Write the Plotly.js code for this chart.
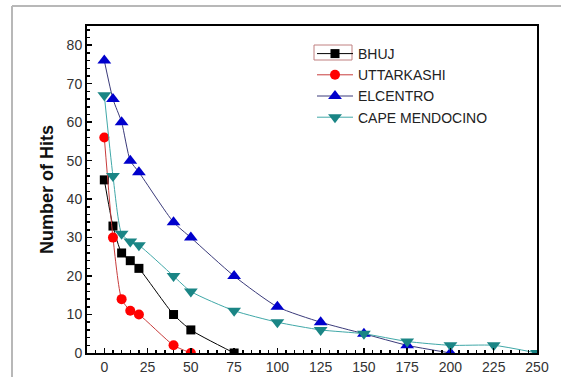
<!DOCTYPE html>
<html><head><meta charset="utf-8">
<script src="https://cdn.plot.ly/plotly-3.0.1.min.js"></script>
<style>html,body{margin:0;padding:0;background:#fff}#chart{width:561px;height:377px}</style>
</head><body><div id="chart"></div>
<script>
const bhujX = [0,5,10,15,20,40,50,75];
const bhujY = [45,33,26,24,22,10,6,0];
const uttX = [0,5,10,15,20,40,50];
const uttY = [56,30,14,11,10,2,0];
const elcX = [0,5,10,15,20,40,50,75,100,125,150,175,200];
const elcY = [76,66,60,50,47,34,30,20,12,8,5,2,0];
const capeX = [0,5,10,15,20,40,50,75,100,125,150,175,200,225,250];
const capeY = [67,46,31,29,28,20,16,11,8,6,5,3,2,2,0];
const names = ['BHUJ','UTTARKASHI','ELCENTRO','CAPE MENDOCINO'];
const xTicks = [0,25,50,75,100,125,150,175,200,225,250];
const yTicks = [0,10,20,30,40,50,60,70,80];

const traces = [
 {x:bhujX,y:bhujY,name:names[0],mode:'lines+markers',line:{color:'#000000',width:1,shape:'spline',smoothing:0.6},marker:{symbol:'square',size:9,color:'#000000'}},
 {x:uttX,y:uttY,name:names[1],mode:'lines+markers',line:{color:'#c83c3c',width:1,shape:'spline',smoothing:0.6},marker:{symbol:'circle',size:10,color:'#ff0000'}},
 {x:elcX,y:elcY,name:names[2],mode:'lines+markers',line:{color:'#3a3a7a',width:1,shape:'spline',smoothing:0.6},marker:{symbol:'triangle-up',size:12,color:'#0000cc'}},
 {x:capeX,y:capeY,name:names[3],mode:'lines+markers',line:{color:'#40a8a8',width:1,shape:'spline',smoothing:0.6},marker:{symbol:'triangle-down',size:12,color:'#1a8585'}}
];
const legTop = 38;
const layout = {
 width:561,height:377,
 margin:{l:87,r:24,t:26,b:24},
 paper_bgcolor:'#ffffff',plot_bgcolor:'#ffffff',
 font:{family:'Liberation Sans, Arial, sans-serif',size:14,color:'#333'},
 showlegend:true,
 legend:{x:0.5,y:1-(legTop-26)/327,xanchor:'left',yanchor:'top',bgcolor:'rgba(0,0,0,0)',font:{size:14,color:'#222'},itemwidth:36,tracegroupgap:0},
 xaxis:{range:[-10,250],tickvals:xTicks,ticktext:xTicks.map(String),ticks:'inside',ticklen:5,tickwidth:1.5,tickcolor:'#000',
   tickfont:{size:14,color:'#333'},
   showline:true,linecolor:'#000',linewidth:2,mirror:true,showgrid:false,zeroline:false,
   minor:{dtick:5,tick0:0,ticks:'inside',ticklen:3,tickcolor:'#000',showgrid:false}},
 yaxis:{range:[0,85],tickvals:yTicks,ticktext:yTicks.map(String),ticks:'inside',ticklen:5,tickwidth:1.5,tickcolor:'#000',
   tickfont:{size:14,color:'#333'},
   showline:true,linecolor:'#000',linewidth:2,mirror:true,showgrid:false,zeroline:false,
   title:{text:'<b>Number of Hits</b>',font:{size:18,color:'#111'},standoff:8},
   minor:{dtick:2,tick0:0,ticks:'inside',ticklen:3,tickcolor:'#000',showgrid:false}},
 shapes:[
  {type:'line',xref:'paper',yref:'paper',x0:-75/450,x1:1.1,y0:(377-24-6)/327,y1:(377-24-6)/327,line:{color:'#b8b8b8',width:2}},
  {type:'line',xref:'paper',yref:'paper',x0:-75/450,x1:-75/450,y0:(377-24-6)/327,y1:-0.1,line:{color:'#b8b8b8',width:2}},
  {type:'rect',xref:'paper',yref:'paper',x0:(314-87)/450,x1:(352-87)/450,y0:(353-60)/327,y1:(353-45)/327,line:{color:'#c08080',width:1}}
 ]
};
Plotly.newPlot('chart',traces,layout,{displayModeBar:false,staticPlot:true});
</script></body></html>
